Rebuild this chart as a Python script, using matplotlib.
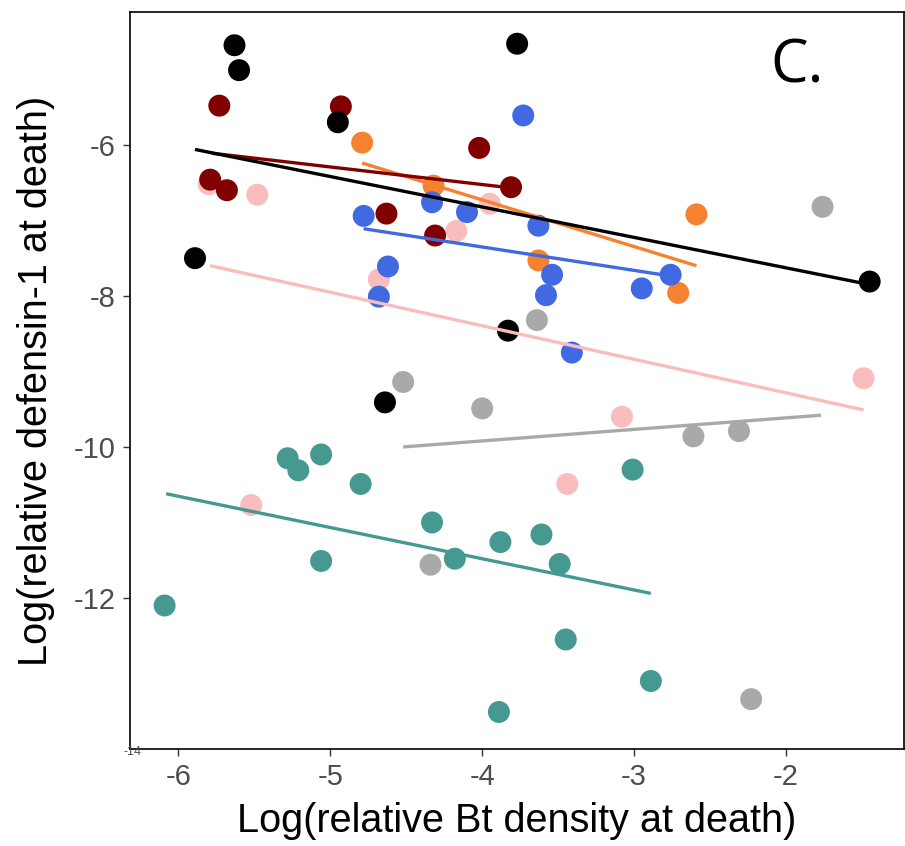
import matplotlib
matplotlib.use("Agg")
import matplotlib.pyplot as plt

# ---- data ----
groups = ["pink", "grey", "teal", "orange", "blue", "maroon", "black"]
colors = {"pink": "#F9BDBD", "grey": "#A9A9A9", "teal": "#469990",
          "orange": "#F58231", "blue": "#4169E1", "maroon": "#800000",
          "black": "#000000"}

pink_x = [-5.80, -5.48, -3.95, -4.17, -4.68, -1.49, -5.52, -3.08, -3.44]
pink_y = [-6.52, -6.66, -6.78, -7.14, -7.78, -9.09, -10.77, -9.60, -10.49]

grey_x = [-3.64, -4.52, -4.00, -1.76, -2.61, -2.31, -4.34, -2.23]
grey_y = [-8.32, -9.14, -9.49, -6.82, -9.86, -9.79, -11.56, -13.34]

teal_x = [-5.28, -5.21, -5.06, -4.80, -4.33, -4.18, -5.06, -3.88, -3.61,
          -6.09, -3.89, -3.49, -3.01, -3.45, -2.89]
teal_y = [-10.15, -10.31, -10.10, -10.49, -11.00, -11.48, -11.51, -11.26, -11.16,
          -12.10, -13.51, -11.55, -10.30, -12.55, -13.10]

orange_x = [-4.79, -4.32, -3.63, -2.59, -2.71]
orange_y = [-5.97, -6.54, -7.53, -6.92, -7.96]

blue_x = [-3.73, -4.78, -4.33, -4.10, -3.63, -4.62, -4.68, -3.54, -3.58,
          -2.95, -2.76, -3.41]
blue_y = [-5.61, -6.94, -6.76, -6.89, -7.07, -7.61, -8.01, -7.72, -7.99,
          -7.90, -7.72, -8.75]

maroon_x = [-5.73, -4.93, -4.02, -3.81, -5.79, -5.68, -4.63, -4.31]
maroon_y = [-5.48, -5.49, -6.04, -6.56, -6.46, -6.60, -6.91, -7.20]

black_x = [-5.63, -5.60, -4.95, -3.77, -5.89, -3.83, -4.64, -1.45]
black_y = [-4.68, -5.01, -5.70, -4.66, -7.50, -8.46, -9.41, -7.81]

points = {"pink": (pink_x, pink_y), "grey": (grey_x, grey_y),
          "teal": (teal_x, teal_y), "orange": (orange_x, orange_y),
          "blue": (blue_x, blue_y), "maroon": (maroon_x, maroon_y),
          "black": (black_x, black_y)}

# fitted line endpoints (x_start, x_end), (y_start, y_end)
fit_x = {"black": [-5.89, -1.45], "maroon": [-5.78, -3.85],
         "orange": [-4.79, -2.59], "blue": [-4.78, -2.78],
         "pink": [-5.79, -1.49], "grey": [-4.52, -1.77],
         "teal": [-6.08, -2.89]}
fit_y = {"black": [-6.06, -7.85], "maroon": [-6.11, -6.56],
         "orange": [-6.24, -7.60], "blue": [-7.11, -7.73],
         "pink": [-7.60, -9.51], "grey": [-10.00, -9.58],
         "teal": [-10.62, -11.94]}

x_ticks = [-6, -5, -4, -3, -2]
y_ticks = [-6, -8, -10, -12]
xlabel = "Log(relative Bt density at death)"
ylabel = "Log(relative defensin-1 at death)"
panel = "C."

# ---- plot ----
plt.rcParams["font.family"] = ["Liberation Sans", "DejaVu Sans"]
fig = plt.figure(figsize=(9.05, 8.46), dpi=100)
ax = fig.add_axes([0.1436, 0.1147, 0.8553, 0.8711])

for g in groups:
    xs, ys = points[g]
    ax.scatter(xs, ys, s=250, color=colors[g], edgecolors="none", zorder=2)

for g in groups:
    ax.plot(fit_x[g], fit_y[g], color=colors[g], lw=2.4, zorder=3,
            solid_capstyle="butt")

ax.set_xlim(-6.318, -1.224)
ax.set_ylim(-14.0, -4.24)
ax.set_xticks(x_ticks)
ax.set_yticks(y_ticks)
ax.set_xticklabels([str(t) for t in x_ticks])
ax.set_yticklabels([str(t) for t in y_ticks])
ax.tick_params(axis="both", direction="out", length=5, width=1,
               colors="#333333", labelsize=21, labelcolor="#4D4D4D", pad=5)
for sp in ax.spines.values():
    sp.set_linewidth(1.2)
    sp.set_color("black")

ax.set_xlabel(xlabel, fontsize=28.5, color="black", labelpad=8)
ax.set_ylabel(ylabel, fontsize=28.5, color="black", labelpad=14)

ax.text(0.003, -0.004, "-14", transform=ax.transAxes, fontsize=9,
        color="#4D4D4D", ha="center", va="center")

ax.text(0.862, 0.926, panel, transform=ax.transAxes, fontsize=43,
        family=["Open Sans", "DejaVu Sans"], ha="center", va="center")

fig.savefig("out.png", dpi=100)
